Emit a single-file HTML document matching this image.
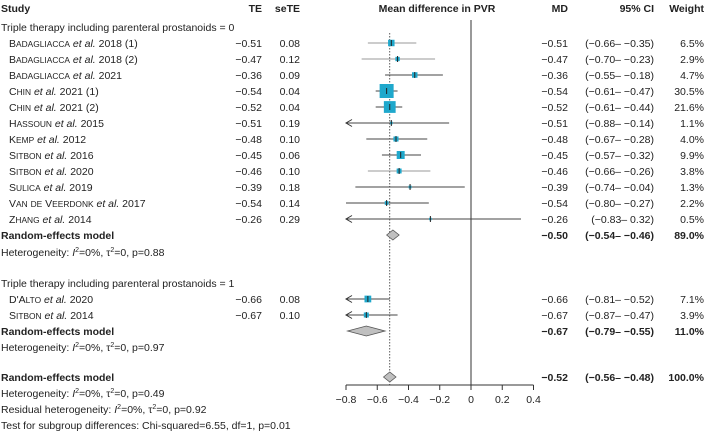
<!DOCTYPE html>
<html><head><meta charset="utf-8"><style>
html,body{margin:0;padding:0;background:#fff}
svg{display:block;font-family:"Liberation Sans",sans-serif;font-size:10.5px;fill:#222}
.b{font-weight:bold}
</style></head><body>
<svg id="c" width="705" height="434" viewBox="0 0 705 434"></svg>
<script>
const studies=["Badagliacca|2018 (1)","Badagliacca|2018 (2)","Badagliacca|2021","Chin|2021 (1)","Chin|2021 (2)","Hassoun|2015","Kemp|2012","Sitbon|2016","Sitbon|2020","Sulica|2019","Van de Veerdonk|2017","Zhang|2014","D'Alto|2020","Sitbon|2014"];
const te=[-0.51,-0.47,-0.36,-0.54,-0.52,-0.51,-0.48,-0.45,-0.46,-0.39,-0.54,-0.26,-0.66,-0.67];
const seTE=["0.08","0.12","0.09","0.04","0.04","0.19","0.10","0.06","0.10","0.18","0.14","0.29","0.08","0.10"];
const lower=[-0.66,-0.70,-0.55,-0.61,-0.61,-0.88,-0.67,-0.57,-0.66,-0.74,-0.80,-0.83,-0.81,-0.87];
const upper=[-0.35,-0.23,-0.18,-0.47,-0.44,-0.14,-0.28,-0.32,-0.26,-0.04,-0.27,0.32,-0.52,-0.47];
const weights=[6.5,2.9,4.7,30.5,21.6,1.1,4.0,9.9,3.8,1.3,2.2,0.5,7.1,3.9];
const groupOf=[0,0,0,0,0,0,0,0,0,0,0,0,1,1];
const pooledMD=[-0.50,-0.67,-0.52];
const pooledLo=[-0.54,-0.79,-0.56];
const pooledHi=[-0.46,-0.55,-0.48];
const pooledW=["89.0%","11.0%","100.0%"];
const ticks=[-0.8,-0.6,-0.4,-0.2,0,0.2,0.4];
const tickLabels=["\u22120.8","\u22120.6","\u22120.4","\u22120.2","0","0.2","0.4"];

const svg=document.getElementById('c');const NS="http://www.w3.org/2000/svg";
const X=v=>471+v*156.25;
const XMIN=-0.8,XMAX=0.4;
const m=v=>(v<0?"\u2212":"")+Math.abs(v).toFixed(2);
function el(t,a,p){const e=document.createElementNS(NS,t);for(const k in a)e.setAttribute(k,a[k]);(p||svg).appendChild(e);return e;}
function txt(s,x,y,anchor,cls,name){const e=el('text',{x:x,y:y,'text-anchor':anchor||'start'});if(cls)e.setAttribute('class',cls);e.textContent=s;


return e;}
const hb=[["Study",1,"start"],["TE",262,"end"],["seTE",300,"end"],["Mean difference in PVR",437,"middle"],["MD",568,"end"],["95% CI",654,"end"],["Weight",704,"end"]];
hb.forEach(h=>{txt(h[0],h[1],12,h[2],'b','column-header');});
txt("Triple therapy including parenteral prostanoids = 0",1,31,'start','','subgroup-label');
txt("Triple therapy including parenteral prostanoids = 1",1,287,'start','','subgroup-label');
const zl=el('line',{x1:X(0),x2:X(0),y1:20,y2:385,stroke:'#333','stroke-width':1});

const dl=el('line',{x1:X(pooledMD[2]),x2:X(pooledMD[2]),y1:33,y2:385,stroke:'#333','stroke-width':0.8,'stroke-dasharray':'1.5,1.5'});

const rowY=i=>groupOf[i]===0?43+i*16:299+(i-12)*16;
const grayRows=[0,1,8];
function smallCaps(parent,word){
 word.split(' ').forEach((w,j)=>{
  if(j>0){const s=el('tspan',{},parent);s.textContent=' ';}
  const apos=w.indexOf("'");
  let head,rest;
  if(apos>=0){head=w.slice(0,apos+2);rest=w.slice(apos+2);}else{head=w[0];rest=w.slice(1);}
  if(w==='de'||w==='van'){head='';rest=w;}
  if(head){const a=el('tspan',{},parent);a.textContent=head.toUpperCase();}
  const b=el('tspan',{'font-size':'8.4'},parent);b.textContent=rest.toUpperCase();
 });
}
studies.forEach((s,i)=>{
 const y=rowY(i);const [nm,yr]=s.split('|');
 const t=el('text',{x:9,y:y+4});
 
 
 smallCaps(t,nm);
 const b=el('tspan',{'font-style':'italic'},t);b.textContent=" et al.";
 const c=el('tspan',{},t);c.textContent=" "+yr;
 txt(m(te[i]),262,y+4,'end','','te-value');
 txt(seTE[i],300,y+4,'end','','sete-value');
 txt(m(te[i]),568,y+4,'end','','md-value');
 txt("("+m(lower[i])+"\u2013 "+m(upper[i])+")",654,y+4,'end','','ci-value');
 txt(weights[i].toFixed(1)+"%",704,y+4,'end','','weight-value');
 const lo=Math.max(lower[i],XMIN),hi=Math.min(upper[i],XMAX);
 const col=grayRows.includes(i)?'#999':'#444';
 const ln=el('line',{x1:X(lo),x2:X(hi),y1:y,y2:y,stroke:col,'stroke-width':1});
 
 if(lower[i]<XMIN){const ar=el('path',{d:`M${X(XMIN)+6},${y-3.5} L${X(XMIN)},${y} L${X(XMIN)+6},${y+3.5}`,fill:'none',stroke:'#333','stroke-width':1});
 }
 const sz=Math.max(2.5,14*Math.sqrt(weights[i]/30.5));
 const sq=el('rect',{x:X(te[i])-sz/2,y:y-sz/2,width:sz,height:sz,fill:'#1fa8cc'});
 
 const tk=el('line',{x1:X(te[i]),x2:X(te[i]),y1:y-3,y2:y+3,stroke:'#222','stroke-width':1});
 
});
const pY=[235,331,377];
pY.forEach((y,k)=>{
 txt("Random-effects model",1,y+4,'start','b','random-effects-label');
 txt(m(pooledMD[k]),568,y+4,'end','b','pooled-md');
 txt("("+m(pooledLo[k])+"\u2013 "+m(pooledHi[k])+")",654,y+4,'end','b','pooled-ci');
 txt(pooledW[k],704,y+4,'end','b','pooled-weight');
 const d=el('polygon',{points:`${X(pooledLo[k])},${y} ${X(pooledMD[k])},${y-5} ${X(pooledHi[k])},${y} ${X(pooledMD[k])},${y+5}`,fill:'#c0c0c0',stroke:'#555','stroke-width':0.8});
 
});
function het(y,pre,p,name){const t=el('text',{x:1,y:y+4});
 
 t.innerHTML=pre+'<tspan font-style="italic">I</tspan><tspan dy="-4" font-size="7">2</tspan><tspan dy="4">=0%, τ</tspan><tspan dy="-4" font-size="7">2</tspan><tspan dy="4">=0, p='+p+'</tspan>';}
het(252,"Heterogeneity: ","0.88",'heterogeneity-text');
het(347,"Heterogeneity: ","0.97",'heterogeneity-text');
het(393,"Heterogeneity: ","0.49",'heterogeneity-text');
het(409,"Residual heterogeneity: ","0.92",'residual-heterogeneity-text');
txt("Test for subgroup differences: Chi-squared=6.55, df=1, p=0.01",1,429,'start','','subgroup-test-text');
const ax=el('line',{x1:X(XMIN),x2:X(XMAX),y1:385,y2:385,stroke:'#333','stroke-width':1});

ticks.forEach((v,i)=>{const t=el('line',{x1:X(v),x2:X(v),y1:385,y2:390,stroke:'#333','stroke-width':1});
 
 txt(tickLabels[i],X(v),403,'middle','','x-tick-label');});
</script>
</body></html>
